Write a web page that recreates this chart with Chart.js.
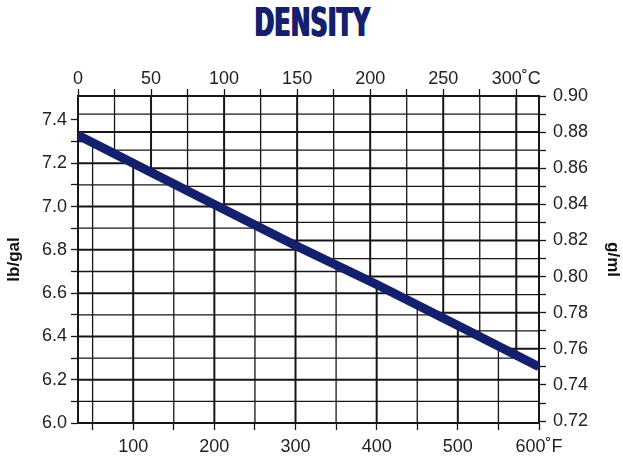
<!DOCTYPE html>
<html>
<head>
<meta charset="utf-8">
<script src="https://cdn.jsdelivr.net/npm/chart.js@4"></script>
<style>
  html, body { margin: 0; padding: 0; background: #fff; }
  #wrap { position: relative; width: 623px; height: 456px; }
  #title {
    position: absolute; left: 0; top: 1px; width: 623px;
    text-align: center; line-height: 44px;
    font-family: "Liberation Sans Narrow", "DejaVu Sans Condensed", sans-serif;
    font-weight: bold; font-size: 39px; color: #14206e;
    text-shadow: 1px 0 0 #14206e, -1px 0 0 #14206e;
    transform: scaleX(0.68); transform-origin: 314px 0;
  }
  canvas { position: absolute; left: 0; top: 0; }
</style>
</head>
<body>
<div id="wrap">
  <div id="title">DENSITY</div>
  <canvas id="density" width="623" height="456"></canvas>
</div>
<script>
// curve: temperature in °F, density in lb/gal
const tempF = [32, 100, 200, 300, 400, 500, 600];
const densityLbGal = [7.33, 7.20, 7.01, 6.82, 6.64, 6.45, 6.26];

// tick values and their labels ('' = tick and grid line only)
const celsiusTicks = [0, 25, 50, 75, 100, 125, 150, 175, 200, 225, 250, 275, 300];
const celsiusLabels = ['0', '', '50', '', '100', '', '150', '', '200', '', '250', '', '300˚C'];
const fahrenheitTicks = [50, 100, 150, 200, 250, 300, 350, 400, 450, 500, 550, 600];
const fahrenheitLabels = ['', '100', '', '200', '', '300', '', '400', '', '500', '', '600˚F'];
const lbGalTicks = [6.0, 6.1, 6.2, 6.3, 6.4, 6.5, 6.6, 6.7, 6.8, 6.9, 7.0, 7.1, 7.2, 7.3, 7.4];
const lbGalLabels = ['6.0', '', '6.2', '', '6.4', '', '6.6', '', '6.8', '', '7.0', '', '7.2', '', '7.4'];
const gmlTicks = [0.72, 0.73, 0.74, 0.75, 0.76, 0.77, 0.78, 0.79, 0.80, 0.81, 0.82, 0.83, 0.84, 0.85, 0.86, 0.87, 0.88, 0.89, 0.90];
const gmlLabels = ['0.72', '', '0.74', '', '0.76', '', '0.78', '', '0.80', '', '0.82', '', '0.84', '', '0.86', '', '0.88', '', '0.90'];

const LB_GAL_TO_G_ML = 0.119826;
const NAVY = '#14206e';
const INK = '#161616';

// above the curve the grid follows °C and g/ml, below it °F and lb/gal
const splitGrid = {
    id: 'splitGrid',
    beforeDatasetsDraw(chart) {
        const { ctx, chartArea: a, scales } = chart;
        const pts = chart.getDatasetMeta(0).data;

        function region(edgeY) {
            ctx.beginPath();
            ctx.moveTo(a.left, edgeY);
            ctx.lineTo(a.left, pts[0].y);
            pts.forEach(p => ctx.lineTo(p.x, p.y));
            ctx.lineTo(a.right, pts[pts.length - 1].y);
            ctx.lineTo(a.right, edgeY);
            ctx.closePath();
        }

        function lines(scale, labels, vertical) {
            scale.ticks.forEach((t, i) => {
                const p = scale.getPixelForValue(t.value);
                ctx.lineWidth = labels[i] ? 2 : 1.3;
                ctx.beginPath();
                if (vertical) {
                    ctx.moveTo(p, a.top);
                    ctx.lineTo(p, a.bottom);
                } else {
                    ctx.moveTo(a.left, p);
                    ctx.lineTo(a.right, p);
                }
                ctx.stroke();
            });
        }

        ctx.save();
        ctx.strokeStyle = INK;
        ctx.save();
        region(a.top);
        ctx.clip();
        lines(scales.x2, celsiusLabels, true);
        lines(scales.y2, gmlLabels, false);
        ctx.restore();
        ctx.save();
        region(a.bottom);
        ctx.clip();
        lines(scales.x, fahrenheitLabels, true);
        lines(scales.y, lbGalLabels, false);
        ctx.restore();
        ctx.restore();
    }
};

function axis(position, min, max, tickValues, labels, size, padding) {
    const horizontal = position === 'top' || position === 'bottom';
    return {
        type: 'linear',
        position: position,
        min: min,
        max: max,
        afterBuildTicks: scale => {
            scale.ticks = tickValues.map(v => ({ value: v }));
        },
        afterFit: scale => {
            if (horizontal) {
                scale.height = size;
            } else {
                scale.width = size;
            }
        },
        ticks: {
            autoSkip: false,
            maxRotation: 0,
            padding: padding,
            color: '#222',
            font: { family: '"Liberation Sans", Arial, sans-serif', size: 18 },
            callback: (value, index) => labels[index]
        },
        grid: {
            drawOnChartArea: false,
            drawTicks: true,
            tickLength: 7,
            tickColor: INK,
            tickWidth: 1.3
        },
        border: { display: true, color: INK, width: 2 }
    };
}

const scaleX = axis('bottom', 32, 600, fahrenheitTicks, fahrenheitLabels, 33, 6);
const scaleX2 = axis('top', 0, (600 - 32) / 1.8, celsiusTicks, celsiusLabels, 46, -1);
const scaleY = axis('left', 6.0, 0.90 / LB_GAL_TO_G_ML, lbGalTicks, lbGalLabels, 78, 4);
const scaleY2 = axis('right', 6.0 * LB_GAL_TO_G_ML, 0.90, gmlTicks, gmlLabels, 84, 7);
scaleY.title = { display: true, text: 'lb/gal', color: '#111', font: { family: '"Liberation Sans", Arial, sans-serif', size: 17, weight: 'bold' } };
scaleY2.title = { display: true, text: 'g/ml', color: '#111', padding: 0, font: { family: '"Liberation Sans", Arial, sans-serif', size: 17, weight: 'bold' } };

new Chart(document.getElementById('density'), {
    type: 'line',
    data: {
        datasets: [{
            label: 'Density',
            data: tempF.map((f, i) => ({ x: f, y: densityLbGal[i] })),
            xAxisID: 'x',
            yAxisID: 'y',
            borderColor: NAVY,
            borderWidth: 9,
            borderCapStyle: 'butt',
            pointRadius: 0,
            tension: 0
        }]
    },
    options: {
        responsive: false,
        animation: false,
        layout: { padding: { top: 50, left: 0, right: 0, bottom: 0 } },
        plugins: {
            legend: { display: false },
            tooltip: { enabled: false }
        },
        scales: { x: scaleX, x2: scaleX2, y: scaleY, y2: scaleY2 }
    },
    plugins: [splitGrid]
});
</script>
</body>
</html>
